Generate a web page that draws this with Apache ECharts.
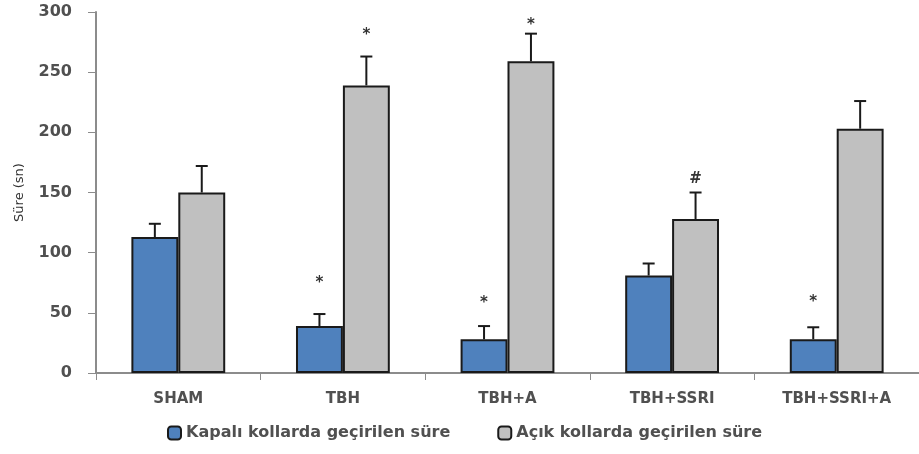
<!DOCTYPE html>
<html>
<head>
<meta charset="utf-8">
<script src="https://cdn.jsdelivr.net/npm/echarts@6/dist/echarts.min.js"></script>
<style>
  html, body { margin: 0; padding: 0; background: #fff; }
  #chart { width: 919px; height: 454px; }
</style>
</head>
<body>
<div id="chart"></div>
<script>
var groups = ['SHAM', 'TBH', 'TBH+A', 'TBH+SSRI', 'TBH+SSRI+A'];
var yTicks = [0, 50, 100, 150, 200, 250, 300];

// Kapalı kollar (blue) / Açık kollar (grey): mean and upper error
var kapali = [113, 39, 28, 81, 28];
var kapaliErr = [11, 10, 11, 10, 10];
var acik = [150, 239, 259, 128, 203];
var acikErr = [22, 24, 23, 22, 23];

// significance marks and the level (in seconds) they sit at
var kapaliMark = ['', '*', '*', '', '*'];
var kapaliMarkAt = [0, 75, 58, 0, 59];
var acikMark = ['', '*', '*', '#', ''];
var acikMarkAt = [0, 281, 289, 161, 0];

var catGap = 0.43;

function errorSeries(name, means, errs, marks, markAt, side) {
  return {
    type: 'custom',
    name: name + '_err',
    z: 5,
    data: means.map(function (m, i) { return [i, m, m + errs[i], markAt[i]]; }),
    renderItem: function (params, api) {
      var i = api.value(0);
      var top = api.coord([i, api.value(2)]);
      var base = api.coord([i, api.value(1)]);
      var bw = api.size([1, 0])[0] * (1 - catGap) / 2;
      var x = top[0] + side * bw / 2;
      var style = { stroke: '#1a1a1a', lineWidth: 2 };
      var children = [
        { type: 'line', shape: { x1: x, y1: base[1], x2: x, y2: top[1] }, style: style },
        { type: 'line', shape: { x1: x - 6, y1: top[1], x2: x + 6, y2: top[1] }, style: style }
      ];
      var mark = marks[params.dataIndex];
      if (mark) {
        var my = api.coord([i, api.value(3)])[1];
        children.push({
          type: 'text',
          style: {
            x: x, y: my, text: mark,
            align: 'center', verticalAlign: 'middle',
            fill: '#333', font: 'bold 15px "DejaVu Sans"'
          }
        });
      }
      return { type: 'group', children: children };
    }
  };
}

var chart = echarts.init(document.getElementById('chart'));
chart.setOption({
  animation: false,
  backgroundColor: '#fff',
  textStyle: { fontFamily: 'DejaVu Sans' },
  grid: { left: 96, right: 0, top: 12, bottom: 81, containLabel: false },
  legend: {
    data: ['Kapalı kollarda geçirilen süre', 'Açık kollarda geçirilen süre'],
    bottom: 8,
    left: 162,
    itemWidth: 13,
    itemHeight: 13,
    itemGap: 47,
    textStyle: { fontSize: 16, fontWeight: 'bold', color: '#505050', fontFamily: 'DejaVu Sans' }
  },
  xAxis: {
    type: 'category',
    data: groups,
    axisLine: { lineStyle: { color: '#8c8c8c', width: 2 } },
    axisTick: { show: true, length: 7, lineStyle: { color: '#8c8c8c' } },
    axisLabel: { margin: 19, fontSize: 15, fontWeight: 'bold', color: '#505050' }
  },
  yAxis: {
    type: 'value',
    min: yTicks[0],
    max: yTicks[yTicks.length - 1],
    interval: 50,
    name: 'Süre (sn)',
    nameLocation: 'middle',
    nameRotate: 90,
    nameGap: 70,
    nameTextStyle: { fontSize: 13, color: '#333' },
    axisLine: { show: true, lineStyle: { color: '#8c8c8c', width: 2 } },
    axisTick: { show: true, length: 8, lineStyle: { color: '#8c8c8c' } },
    splitLine: { show: false },
    axisLabel: { margin: 24, fontSize: 16, fontWeight: 'bold', color: '#505050' }
  },
  series: [
    {
      name: 'Kapalı kollarda geçirilen süre',
      type: 'bar',
      data: kapali,
      barGap: 0,
      barCategoryGap: (catGap * 100) + '%',
      itemStyle: { color: '#4f81bd', borderColor: '#1a1a1a', borderWidth: 2 }
    },
    {
      name: 'Açık kollarda geçirilen süre',
      type: 'bar',
      data: acik,
      barGap: 0,
      barCategoryGap: (catGap * 100) + '%',
      itemStyle: { color: '#c0c0c0', borderColor: '#1a1a1a', borderWidth: 2 }
    },
    errorSeries('kapali', kapali, kapaliErr, kapaliMark, kapaliMarkAt, -1),
    errorSeries('acik', acik, acikErr, acikMark, acikMarkAt, 1)
  ]
});
</script>
</body>
</html>
